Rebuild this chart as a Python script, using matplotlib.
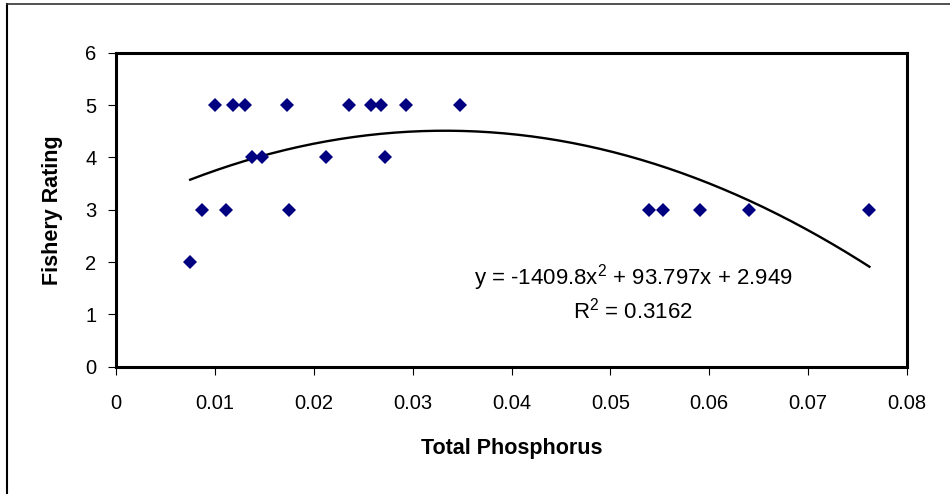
import matplotlib.pyplot as plt
import numpy as np
from matplotlib.lines import Line2D

plt.rcParams['font.family'] = ['Liberation Sans', 'DejaVu Sans']
plt.rcParams['mathtext.fontset'] = 'custom'
plt.rcParams['mathtext.rm'] = 'Liberation Sans'
plt.rcParams['mathtext.it'] = 'Liberation Sans'

# Total phosphorus vs fishery rating
phosphorus = [0.0075, 0.0087, 0.0100, 0.0111, 0.0118, 0.0130, 0.0138, 0.0148,
              0.0173, 0.0175, 0.0212, 0.0236, 0.0258, 0.0268, 0.0272, 0.0293,
              0.0348, 0.0539, 0.0553, 0.0591, 0.0640, 0.0762]
rating = [2, 3, 5, 3, 5, 5, 4, 4,
          5, 3, 4, 5, 5, 5, 4, 5,
          5, 3, 3, 3, 3, 3]

# polynomial trendline (order 2)
coef = [-1409.8, 93.797, 2.949]
r_squared = 0.3162

xticks = [0, 0.01, 0.02, 0.03, 0.04, 0.05, 0.06, 0.07, 0.08]
xtick_labels = ['0', '0.01', '0.02', '0.03', '0.04', '0.05', '0.06', '0.07', '0.08']
yticks = [0, 1, 2, 3, 4, 5, 6]

fig = plt.figure(figsize=(9.5, 4.94), dpi=100)
ax = fig.add_axes([116 / 950, 1 - 366.7 / 494, 791 / 950, 314 / 494])

xs = np.linspace(min(phosphorus), max(phosphorus), 200)
ax.plot(xs, np.polyval(coef, xs), color='black', lw=1.7, zorder=2)
ax.plot(phosphorus, rating, linestyle='none', marker='D', markersize=7.5,
        color='#000080', markeredgewidth=0, zorder=3)

ax.set_xlim(0, 0.08)
ax.set_ylim(0, 6)
ax.set_xticks(xticks)
ax.set_xticklabels(xtick_labels)
ax.set_yticks(yticks)
ax.tick_params(axis='x', direction='out', length=6, width=0.8, pad=14, labelsize=14.5)
ax.tick_params(axis='y', direction='out', length=6, width=0.8, pad=8, labelsize=14.5)
for s in ax.spines.values():
    s.set_linewidth(2.2)
    s.set_color('black')

ax.set_xlabel('Total Phosphorus', fontsize=15.5, fontweight='bold', labelpad=18)
ax.set_ylabel('Fishery Rating', fontsize=15.5, fontweight='bold', labelpad=16)

eq = 'y = -1409.8x$^2$ + 93.797x + 2.949'
ax.text(0.6536, 0.262, eq, transform=ax.transAxes, ha='center', va='baseline',
        fontsize=16)
ax.text(0.6536, 0.153, 'R$^2$ = %.4f' % r_squared, transform=ax.transAxes,
        ha='center', va='baseline', fontsize=16)

# chart area border (top and left edges)
fig.add_artist(Line2D([6.5 / 950, 6.5 / 950], [0, 1 - 4 / 494], transform=fig.transFigure,
                      color='black', lw=1.5))
fig.add_artist(Line2D([6.5 / 950, 1], [1 - 4 / 494, 1 - 4 / 494], transform=fig.transFigure,
                      color='#333333', lw=1.2))

fig.savefig('out.png', dpi=100)
